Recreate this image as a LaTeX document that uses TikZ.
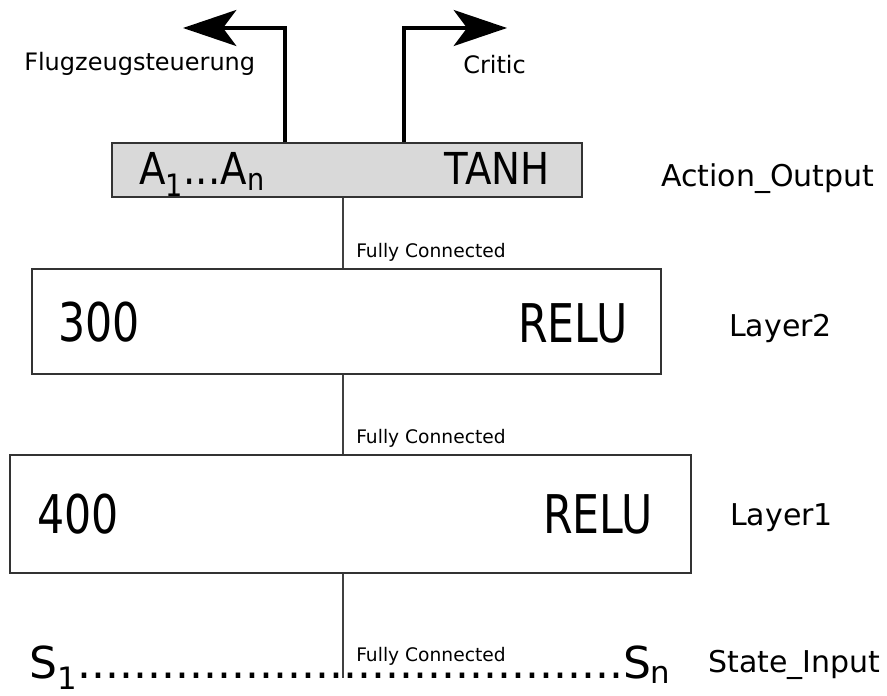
\documentclass[tikz,border=0pt]{standalone}
\usepackage{fontspec}
\setmainfont{DejaVu Sans}
\newfontfamily\boxfont{DejaVu Sans}[FakeStretch=0.8]
\newfontfamily\outfont{DejaVu Sans}[FakeStretch=0.88]
\usetikzlibrary{positioning,arrows.meta,fit}

\begin{document}
\begin{tikzpicture}[
  x=0.75pt, y=-0.75pt,
  layer/.style={draw=black!80, line width=1.1pt, inner sep=0pt},
  outbox/.style={layer, fill=black!15},
  txt/.style={inner sep=0pt, anchor=base west},
  big/.style={txt, font=\boxfont\fontsize{40}{40}\selectfont},
  outtxt/.style={txt, font=\outfont\fontsize{33}{33}\selectfont},
  label/.style={txt, font=\fontsize{22.5}{24}\selectfont},
  top/.style={txt, font=\fontsize{18}{20}\selectfont},
  note/.style={txt, font=\fontsize{14}{16}\selectfont},
  link/.style={draw=black!75, line width=0.8pt},
  flow/.style={line width=2.3pt, -{Stealth[length=40pt, width=27pt, inset=10pt]}}
]
\useasboundingbox (0,0) rectangle (887,695);

% boxes
\node[outbox, fit={(112,143) (582,197)}] (actout) {};
\node[layer, fit={(32,269) (661,374)}] (layertwo) {};
\node[layer, fit={(10,455) (691,573)}] (layerone) {};

% box texts
\node[outtxt] (anum) at (139,185) {A\textsubscript{1}...A\textsubscript{n}};
\node[outtxt, anchor=base east] (aact) at (550,185) {TANH};
\node[big] (ltwonum) at (58,341) {300};
\node[big, anchor=base east] (ltwoact) at (628,342) {RELU};
\node[big] (lonenum) at (37,533) {400};
\node[big, anchor=base east] (loneact) at (653,533) {RELU};

% state input row
\node[txt, font=\fontsize{33}{33}\selectfont] (srow) at (29,678)
  {S\textsubscript{1}.......................................S\textsubscript{n}};

% labels on the right
\node[label] (lblout) at (661,187) {Action\_Output};
\node[label] (lbltwo) at (729,336) {Layer2};
\node[label] (lblone) at (730,525) {Layer1};
\node[label] (lblin) at (708,672) {State\_Input};

% outputs
\node[top] (ctrltxt) at (24,71) {Flugzeugsteuerung};
\node[top] (crittxt) at (463,74) {Critic};
\coordinate (ctrl) at (285,28);
\coordinate (ctrltip) at (183,28);
\coordinate (crit) at (404,28);
\coordinate (crittip) at (507,28);
\draw[flow] (actout.north -| ctrl) -- (ctrl) -- (ctrltip);
\draw[flow] (actout.north -| crit) -- (crit) -- (crittip);

% fully connected links
\coordinate (axis) at (343,0);
\draw[link] (actout.south -| axis) -- (layertwo.north -| axis);
\draw[link] (layertwo.south -| axis) -- (layerone.north -| axis);
\draw[link] (layerone.south -| axis) -- (srow.base -| axis);
\node[note] (fcone) at (356,257) {Fully Connected};
\node[note] (fctwo) at (356,443) {Fully Connected};
\node[note] (fcthree) at (356,661) {Fully Connected};
\end{tikzpicture}
\end{document}
